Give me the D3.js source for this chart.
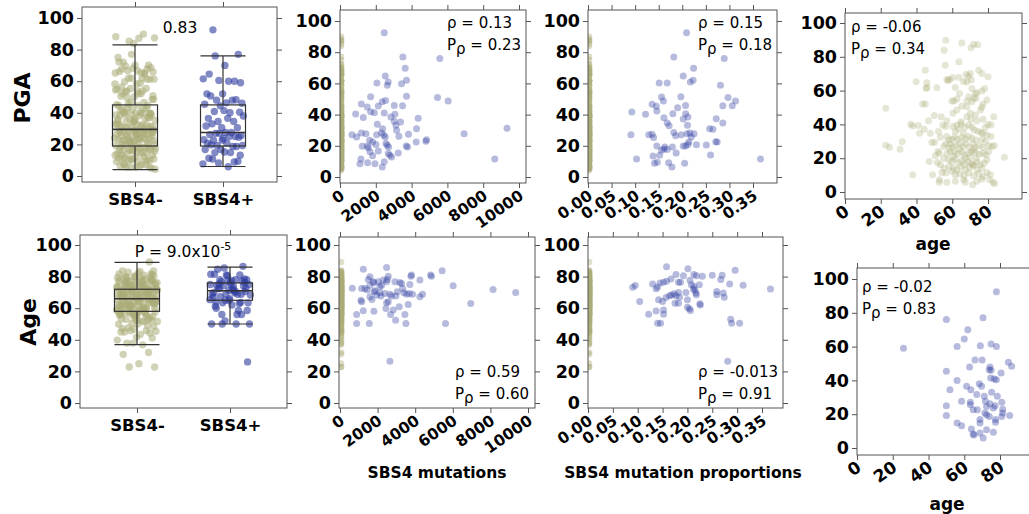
<!DOCTYPE html>
<html>
<head>
<meta charset="utf-8">
<script src="https://d3js.org/d3.v7.min.js"></script>
<style>
  body { margin: 0; background: #fff; }
  text { font-family: "DejaVu Sans", sans-serif; }
</style>
</head>
<body>
<script>

// --- data ---
var categories = ["SBS4-", "SBS4+"];
var yTicks = [0, 20, 40, 60, 80, 100];
var mutTicks = [0, 2000, 4000, 6000, 8000, 10000];
var propTicks = [0, 0.05, 0.10, 0.15, 0.20, 0.25, 0.30, 0.35];
var ageTicks = [0, 20, 40, 60, 80];

// box stats [min, q1, median, q3, max]
var pgaBoxNeg = [4, 19, 29.5, 45, 83];
var pgaBoxPos = [6, 19, 27.5, 45, 76];
var ageBoxNeg = [37, 58, 66, 72, 89];
var ageBoxPos = [50, 65, 71, 76, 86];

var rhoValues = ["0.13", "0.15", "-0.06", "0.59", "-0.013", "-0.02"];
var pRhoValues = ["0.23", "0.18", "0.34", "0.60", "0.91", "0.83"];
var pgaTestP = "0.83";
var ageTestP = ["9.0x10", "-5"];

// SBS4- samples: [age, PGA]
var negAgePga = [[22.8,49.5],[22.8,27.7],[24.9,26.5],[30.8,25.3],[32,29.7],[37.9,10.2],[39.8,65.2],[36.8,40.1],[37.9,39.1],[41.1,39.3],[41.7,34.8],[44.9,72.1],[45.8,64.6],[45.8,61.9],[45.4,61.3],[43.4,52.1],[44.9,52.1],[44.3,37.1],[46.7,42.2],[49.9,45.2],[51.4,61.7],[47.7,34.8],[48.6,29.3],[50.1,29.5],[47.1,18.1],[49,10.2],[50.5,21.4],[51.6,17.5],[52,24],[52.9,7.3],[52.7,5.7],[55.5,83.9],[56.1,75],[56.4,89.8],[57,66.6],[57.6,65.8],[58.5,66.6],[60.2,67.8],[63.7,67.8],[63.7,77],[65.4,88.2],[66.4,65.4],[67.7,69.7],[69.2,68.6],[70.1,70.1],[70.7,66.2],[68.2,65.2],[70.5,85.3],[72,87.4],[74.2,87.2],[74.8,72.1],[76.6,70.1],[80,68.2],[62.6,55],[59.8,53.8],[61,53.8],[62.6,48.5],[64.1,58.3],[68.2,50.5],[72,55.4],[73.3,55.4],[72.9,58.3],[73.8,58.7],[76.6,59.7],[78.1,61.3],[76.6,50.1],[68.2,44.6],[70.1,46.6],[72.9,45.6],[75.7,48.5],[83.2,44.6],[57,42.2],[53.8,44.6],[56.4,38.7],[60.4,38.7],[62.6,39.7],[65,40.3],[67,38.3],[69.2,39.7],[71,38.3],[72.3,36.7],[74.4,36],[76.1,35.2],[78.5,38.1],[80,40.1],[81.7,39.7],[79.4,33.8],[77.2,34.8],[57,32.8],[58.1,30.8],[59.8,31.2],[61.3,32.4],[63,31.2],[65.4,32.4],[67.3,31.2],[69.2,32.8],[71,31.8],[73.3,30.8],[76.6,31.2],[56.4,28.5],[58.9,28.5],[60.2,26.9],[62.1,27.5],[64.1,28.9],[66,26.9],[67.7,28.5],[69.5,26.5],[71.6,28.5],[72.9,26.5],[75.1,27.5],[77.2,26.3],[80.4,27.3],[82.2,26.9],[83.6,27.5],[52.7,23],[57,22.6],[58.9,24],[61.3,23.6],[63,22.6],[65.4,23.6],[66.9,22],[69.2,23],[70.7,24],[72.9,23.4],[75.1,22.4],[77.2,23],[78.9,22],[89.2,20.6],[55.2,20],[58,19.1],[59.8,18.1],[61.7,19.5],[63.6,17.1],[65.4,18.7],[66.9,16.3],[68.8,18.1],[70.7,16.7],[72,15.7],[73.8,17.7],[75.7,16.1],[77.9,17.1],[53.3,16.1],[55.5,14.1],[58.3,15.1],[60.7,14.1],[62.6,13.2],[64.9,15.1],[67.3,13.2],[69.7,14.5],[71.6,16.1],[73.8,13.2],[76.6,14.1],[79.4,11.6],[81.3,10.2],[54.2,11.6],[56.4,11.2],[59.8,12.2],[61.7,10.2],[64.1,10.8],[66.7,9.6],[69.2,11.2],[72,9.6],[74.8,10.8],[77.2,9.2],[80.9,7.3],[82.8,5.7],[83.6,4.9],[57,5.7],[61.7,6.3],[66.4,7.3],[67.3,5.7],[71.4,4.3],[73.8,6.3],[76.6,7.7],[63.6,37.1],[66.4,34.8],[61.7,35.8],[73.8,42.2],[77.2,43],[65.4,50.9],[68.2,53.8],[69.2,56.4],[71,61.3],[61.7,61.9],[79.4,54.4],[77.2,52.1],[71,53.4],[54.7,39.7],[52.3,35.8],[53.3,32.4],[55.2,26.9],[60.7,21],[67.3,20],[70.1,20.6],[73.5,20],[79.4,19.1],[80.4,24],[81.7,32.8],[78.5,29.9],[64.1,25.5],[72,24.9],[58.3,25.9],[64.9,41.6],[70.5,43],[60.4,46.6]];

// SBS4+ samples: [age, PGA]
var posAgePga = [[50,76],[26,59],[62,70],[60,64.5],[56,60],[69,60.5],[75,61.5],[78,60],[78,92.5],[70.5,77],[66,52],[70,52],[63,48],[74.4,48],[75,46],[74,46.3],[84.7,50.7],[86.5,48.3],[80.6,44.4],[50,45.4],[56,40],[76.8,40.8],[78,40.4],[74.8,41.4],[61.3,36.5],[63.7,34.5],[52,34.5],[68.4,38],[69.7,36.5],[75.3,33],[78.5,30.6],[71.2,30.6],[67,31.6],[58.5,27.6],[63.4,27],[63.4,25.6],[71.8,27.6],[74.4,26.2],[77.2,25],[81,27],[81.5,23],[50,25],[67.3,22.7],[72.5,24.6],[76.3,23.7],[81.5,20.7],[81,18.7],[85.4,19.3],[50,19.3],[71.5,20.7],[72.5,19.7],[74,18.7],[77.5,16.8],[68.8,16.8],[68.8,14.8],[56,14.8],[58.5,13.2],[77.5,15.2],[64,11.2],[68.8,8.9],[65,8.3],[65.4,7.7],[70.6,5.9],[72.5,10.8],[76.3,9.3],[65,22.7]];

// SBS4+ : [SBS4 mutations, PGA]
var posMutPga = [[2472,92.5],[5577,75.9],[3513,76.9],[3643,69.7],[3718,62],[2528,64.7],[2695,60.9],[2640,58.8],[2063,60.3],[3439,59.8],[3718,51.7],[1710,51.5],[5447,50.9],[6042,48.7],[2547,49],[2360,48.3],[1190,46.8],[1524,44.9],[2138,45.5],[3030,45.9],[3495,45.7],[874,40.4],[1301,38.2],[1710,41.9],[1915,41.2],[2472,41],[3067,40.2],[2844,38.5],[3384,35.3],[4369,37.6],[2082,33.8],[3030,35.7],[3123,33.1],[3160,29.9],[4276,31],[2379,31],[9332,31.2],[6934,27.8],[669,27.1],[930,25.6],[1190,28.2],[1450,27.8],[2045,27.1],[2324,28.2],[2454,26.7],[2528,25.6],[3290,26.1],[3829,27.4],[4833,23.9],[4796,22.9],[4257,22.4],[1654,23.5],[1822,22.4],[1524,19.9],[1580,18.8],[1245,19.7],[2007,20.9],[2565,21.4],[2640,20.3],[2714,19.2],[3774,19.2],[3700,19.9],[2138,16.7],[1673,16.2],[1822,13.7],[2695,15],[2788,13.9],[2881,12.8],[3253,15.4],[8645,11.5],[1171,11.5],[1115,8.5],[1543,9.2],[1952,8.5],[2472,9.8],[2360,6.4]];

// SBS4+ : [SBS4 mutation proportion, PGA]
var posPropPga = [[0.209,92.5],[0.182,76.9],[0.289,75.9],[0.224,69.7],[0.202,64.7],[0.223,62],[0.217,60.9],[0.151,60.3],[0.168,60.3],[0.281,58.8],[0.156,51.3],[0.197,51.5],[0.297,50.9],[0.313,48.7],[0.160,48.7],[0.286,45.7],[0.306,45.7],[0.136,46.6],[0.145,45.3],[0.207,45.9],[0.190,44.4],[0.093,41.7],[0.146,42.3],[0.122,40.2],[0.161,38],[0.180,40.6],[0.207,40.6],[0.212,38.5],[0.202,37.2],[0.272,37.4],[0.168,34.6],[0.172,32.9],[0.211,33.1],[0.286,34.6],[0.258,31],[0.265,30.6],[0.091,27.1],[0.129,27.1],[0.136,27.4],[0.139,25.4],[0.182,28.6],[0.186,26.5],[0.198,27.1],[0.210,27.8],[0.216,28.2],[0.225,27.8],[0.219,25.6],[0.271,22.6],[0.274,22.4],[0.146,19.9],[0.163,19.2],[0.179,19.2],[0.202,19.9],[0.207,19.9],[0.212,20.9],[0.214,22.4],[0.230,20.7],[0.251,20.5],[0.156,17.1],[0.161,17.9],[0.168,17.7],[0.152,13.9],[0.138,13.5],[0.260,14.1],[0.187,15.4],[0.103,11.5],[0.366,11.5],[0.147,9.4],[0.141,8.8],[0.171,9.2],[0.205,8.8],[0.178,6.4]];

// SBS4+ : [SBS4 mutations, age]
var posMutAge = [[2478,85.8],[1239,84.6],[5434,83.7],[655,72.7],[1150,72.5],[1593,79.9],[1505,78.2],[1770,76.7],[1805,76.1],[2036,76.7],[2213,74.6],[2301,77.8],[2478,76.7],[2513,78.2],[2567,80.3],[2921,76.7],[3186,76.3],[3275,75.7],[3770,80.3],[3806,81],[4248,77.8],[4814,81],[4868,80.3],[6018,74.2],[8142,71.9],[9346,70],[1328,72.5],[1451,71.5],[1593,74.6],[1858,71],[2124,73.6],[1947,68.3],[1699,65.5],[1115,65.1],[1150,64.1],[2177,67.7],[2390,69.3],[2478,63.4],[2567,64.1],[2443,59.8],[2655,68.9],[2743,67.7],[2974,67.7],[3044,70.4],[3398,69.8],[3540,68.9],[3681,69.3],[3859,68.9],[3717,75],[3328,72.5],[4248,67.2],[4390,68.9],[885,56],[1239,58.4],[1805,58.1],[2832,58.8],[2690,56],[3151,60.9],[3451,56],[3628,62.4],[885,50.3],[1558,50.3],[2956,52.4],[3505,50.3],[5611,50.3],[6956,63],[2655,26.4],[1823,70.4],[2124,69.8],[1593,67.2]];

// SBS4+ : [SBS4 mutation proportion, age]
var posPropAge = [[0.158,86.2],[0.201,84.9],[0.296,84],[0.090,73.2],[0.095,74.3],[0.104,64.3],[0.122,56.2],[0.130,75.3],[0.137,72.3],[0.140,73.4],[0.145,76],[0.152,76.4],[0.158,77],[0.167,78.5],[0.177,81.3],[0.182,76.4],[0.186,76.4],[0.192,80.6],[0.205,77.7],[0.213,81.3],[0.218,80.6],[0.230,80.2],[0.250,80.9],[0.270,80.9],[0.267,78.1],[0.285,75.3],[0.312,74.5],[0.367,72.1],[0.142,65.3],[0.150,64.3],[0.152,58.9],[0.137,58.3],[0.140,50.4],[0.146,50.4],[0.152,56.2],[0.157,66.8],[0.164,67.9],[0.168,68.3],[0.173,69.1],[0.177,67.9],[0.182,70],[0.184,67],[0.175,63.2],[0.182,63.2],[0.197,70],[0.200,65.3],[0.200,60.6],[0.204,59.6],[0.206,58.5],[0.208,74.9],[0.212,72.1],[0.213,73.8],[0.215,71.3],[0.217,69.6],[0.218,68.5],[0.224,74.9],[0.225,62.8],[0.226,62.1],[0.259,68.5],[0.259,70.6],[0.272,69.6],[0.274,67],[0.287,53],[0.289,50.4],[0.305,50.4],[0.281,26.4]];

// --- drawing ---
var width = 1029, height = 514;
var svg = d3.select("body").append("svg").attr("width", width).attr("height", height);

var blue = "#2e3ca0", khaki = "#acad78", frameColor = "#555";

// 枠と4辺の目盛り
function frameAxes(g, f, x, y, xTickVals, xFmt, xLabelSize, rotate) {
    g.append("rect").attr("x", f.x0).attr("y", f.y0)
        .attr("width", f.x1 - f.x0).attr("height", f.y1 - f.y0)
        .attr("fill", "none").attr("stroke", frameColor);

    var left = g.append("g").attr("transform", "translate(" + f.x0 + ",0)")
        .call(d3.axisLeft(y).tickValues(yTicks).tickSize(5).tickPadding(3));
    var right = g.append("g").attr("transform", "translate(" + f.x1 + ",0)")
        .call(d3.axisRight(y).tickValues(yTicks).tickSize(5).tickFormat(""));
    var bottom = g.append("g").attr("transform", "translate(0," + f.y1 + ")")
        .call(d3.axisBottom(x).tickValues(xTickVals).tickSize(5).tickPadding(6).tickFormat(xFmt));
    var top = g.append("g").attr("transform", "translate(0," + f.y0 + ")")
        .call(d3.axisTop(x).tickValues(xTickVals).tickSize(5).tickFormat(""));

    [left, right, bottom, top].forEach(function(a) {
        a.select(".domain").remove();
        a.attr("color", frameColor);
        a.selectAll("text").attr("fill", "#000").attr("font-weight", "bold")
            .attr("font-family", "DejaVu Sans");
    });
    left.selectAll("text").attr("font-size", 17.5);
    bottom.selectAll("text").attr("font-size", xLabelSize);
    if (rotate) {
        bottom.selectAll("text")
            .attr("text-anchor", "end").attr("y", 0).attr("dy", 0)
            .attr("transform", "translate(5,15) rotate(-35)");
    }
}

function clipFor(id, f) {
    svg.append("clipPath").attr("id", id).append("rect")
        .attr("x", f.x0).attr("y", f.y0).attr("width", f.x1 - f.x0).attr("height", f.y1 - f.y0);
}

function rhoText(g, tx, ty, rho, p) {
    g.append("text").attr("x", tx).attr("y", ty).attr("font-size", 15).text("ρ = " + rho);
    var t = g.append("text").attr("x", tx).attr("y", ty + 22).attr("font-size", 15);
    t.append("tspan").text("P");
    t.append("tspan").attr("dy", 4).text("ρ");
    t.append("tspan").attr("dy", -4).text(" = " + p);
}

// 散布図パネル
function scatterPanel(id, f, xr, yr, xDomain, xTickVals, xFmt, xLabelSize, negVals, posPts, negPts) {
    var g = svg.append("g");
    var x = d3.scaleLinear().domain(xDomain).range(xr);
    var y = d3.scaleLinear().domain([0, 100]).range(yr);
    clipFor(id, f);
    var pts = g.append("g").attr("clip-path", "url(#" + id + ")");
    if (negVals) {
        pts.selectAll("circle.neg").data(negVals).enter().append("circle")
            .attr("cx", x(0) + 1).attr("cy", function(d) { return y(d); })
            .attr("r", 3.3).attr("fill", khaki).attr("fill-opacity", 0.4);
    }
    if (negPts) {
        pts.selectAll("circle.neg2").data(negPts).enter().append("circle")
            .attr("cx", function(d) { return x(d[0]); }).attr("cy", function(d) { return y(d[1]); })
            .attr("r", 3.5).attr("fill", khaki).attr("fill-opacity", 0.3);
    }
    if (posPts) {
        pts.selectAll("circle.pos").data(posPts).enter().append("circle")
            .attr("cx", function(d) { return x(d[0]); }).attr("cy", function(d) { return y(d[1]); })
            .attr("r", 3.5).attr("fill", blue).attr("fill-opacity", 0.35);
    }
    frameAxes(g, f, x, y, xTickVals, xFmt, xLabelSize, true);
    return g;
}

// 箱ひげ図パネル
function boxPanel(f, cr, yr, negVals, posVals, negBox, posBox) {
    var g = svg.append("g");
    var x = d3.scalePoint().domain(categories).range(cr);
    var y = d3.scaleLinear().domain([0, 100]).range(yr);
    var bw = 45;
    var groups = [
        { cat: categories[0], vals: negVals, box: negBox, color: khaki, op: 0.55 },
        { cat: categories[1], vals: posVals, box: posBox, color: blue, op: 0.6 }
    ];
    groups.forEach(function(grp) {
        g.append("g").selectAll("circle").data(grp.vals).enter().append("circle")
            .attr("cx", function(d, i) { return x(grp.cat) + (((i * 0.618034 + 0.31) % 1) - 0.5) * (bw - 4); })
            .attr("cy", function(d) { return y(d); })
            .attr("r", 3.7).attr("fill", grp.color).attr("fill-opacity", grp.op);
    });
    groups.forEach(function(grp) {
        var cx = x(grp.cat), b = grp.box;
        var bg = g.append("g").attr("stroke", "#333").attr("stroke-width", 1.2).attr("fill", "none");
        bg.append("line").attr("x1", cx).attr("x2", cx).attr("y1", y(b[0])).attr("y2", y(b[1]));
        bg.append("line").attr("x1", cx).attr("x2", cx).attr("y1", y(b[3])).attr("y2", y(b[4]));
        bg.append("line").attr("x1", cx - bw / 2).attr("x2", cx + bw / 2).attr("y1", y(b[0])).attr("y2", y(b[0]));
        bg.append("line").attr("x1", cx - bw / 2).attr("x2", cx + bw / 2).attr("y1", y(b[4])).attr("y2", y(b[4]));
        bg.append("rect").attr("x", cx - bw / 2).attr("width", bw).attr("y", y(b[3])).attr("height", y(b[1]) - y(b[3]));
        bg.append("line").attr("x1", cx - bw / 2).attr("x2", cx + bw / 2).attr("y1", y(b[2])).attr("y2", y(b[2])).attr("stroke-width", 1.6);
    });
    frameAxes(g, f, x, y, categories, null, 16.5, false);
    return g;
}

var negAges = negAgePga.map(function(d) { return d[0]; });
var negPga = negAgePga.map(function(d) { return d[1]; });
var posAges = posAgePga.map(function(d) { return d[0]; });
var posPga = posAgePga.map(function(d) { return d[1]; });
var propFmt = d3.format(".2f"), intFmt = d3.format("d");

// 上段
var p1 = boxPanel({ x0: 82, x1: 277, y0: 7, y1: 182 }, [135, 223], [176, 18], negPga, posPga, pgaBoxNeg, pgaBoxPos);
p1.append("text").attr("x", 180).attr("y", 33).attr("text-anchor", "middle").attr("font-size", 15.5).text(pgaTestP);

var p2 = scatterPanel("c2", { x0: 340, x1: 526, y0: 10, y1: 183 }, [340, 519], [177, 21], [0, 10000], mutTicks, intFmt, 15.5, negPga, posMutPga);
rhoText(p2, 447, 28, rhoValues[0], pRhoValues[0]);

var p3 = scatterPanel("c3", { x0: 588, x1: 777, y0: 10, y1: 183 }, [588, 753], [177, 21], [0, 0.35], propTicks, propFmt, 15.5, negPga, posPropPga);
rhoText(p3, 698, 28, rhoValues[1], pRhoValues[1]);

var p4 = scatterPanel("c4", { x0: 845, x1: 1022, y0: 13, y1: 199 }, [845, 988], [192, 23], [0, 80], ageTicks, intFmt, 17, null, null, negAgePga);
rhoText(p4, 851, 32, rhoValues[2], pRhoValues[2]);

// 下段
var p5 = boxPanel({ x0: 80, x1: 287, y0: 235, y1: 408 }, [137, 230], [403, 245], negAges, posAges, ageBoxNeg, ageBoxPos);
var pt = p5.append("text").attr("x", 183).attr("y", 257).attr("text-anchor", "middle").attr("font-size", 15.5);
pt.append("tspan").text("P = " + ageTestP[0]);
pt.append("tspan").attr("dy", -7).attr("font-size", 11).text(ageTestP[1]);

var p6 = scatterPanel("c6", { x0: 339, x1: 535, y0: 237, y1: 408 }, [340, 528], [403, 245], [0, 10000], mutTicks, intFmt, 15.5, negAges, posMutAge);
rhoText(p6, 455, 377, rhoValues[3], pRhoValues[3]);

var p7 = scatterPanel("c7", { x0: 588, x1: 783, y0: 237, y1: 408 }, [588, 762], [403, 245], [0, 0.35], propTicks, propFmt, 15.5, negAges, posPropAge);
rhoText(p7, 698, 377, rhoValues[4], pRhoValues[4]);

var p8 = scatterPanel("c8", { x0: 857, x1: 1034, y0: 268, y1: 455 }, [857, 1000], [448, 279], [0, 80], ageTicks, intFmt, 17, null, posAgePga);
rhoText(p8, 862, 292, rhoValues[5], pRhoValues[5]);

// 軸タイトル
function label(txt, x, y, size, rot) {
    svg.append("text").attr("transform", "translate(" + x + "," + y + ")" + (rot ? " rotate(-90)" : ""))
        .attr("text-anchor", "middle").attr("font-weight", "bold").attr("font-size", size).text(txt);
}
label("PGA", 30, 98, 22, true);
label("Age", 36, 322, 22, true);
label("SBS4 mutations", 437, 478, 15.5, false);
label("SBS4 mutation proportions", 683, 478, 15.5, false);
label("age", 933, 250, 17, false);
label("age", 947, 510, 17, false);

</script>
</body>
</html>
